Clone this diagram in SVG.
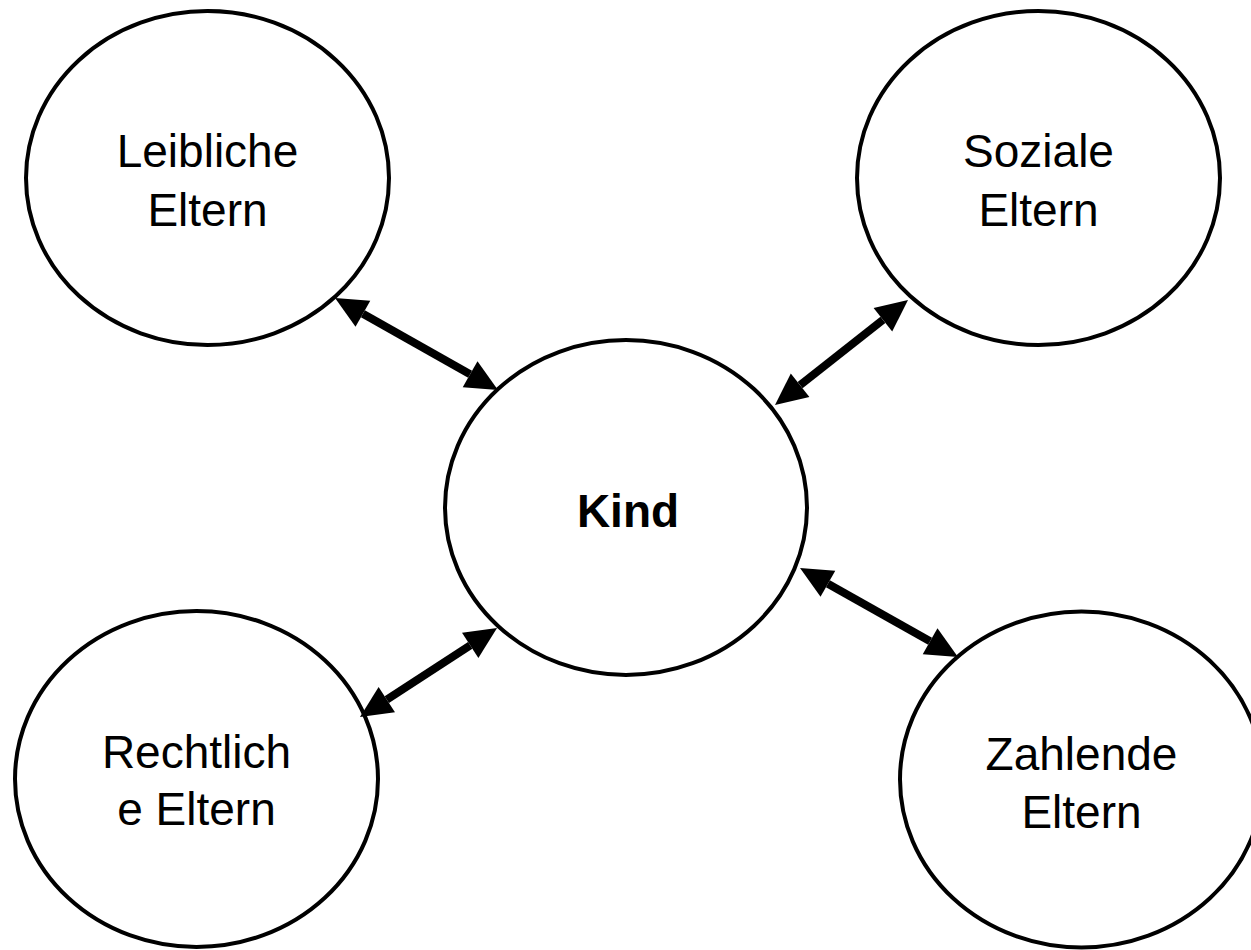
<svg xmlns="http://www.w3.org/2000/svg" width="1251" height="950" viewBox="0 0 1251 950">
<style>
.node{fill:#fff;stroke:#000;stroke-width:4}
.lbl{font-family:"Liberation Sans",Arial,sans-serif;font-size:46px;fill:#000;text-anchor:middle}
.bold{font-weight:bold}
.conn{stroke:#000;stroke-width:8;fill:none;marker-start:url(#head);marker-end:url(#head)}
</style>
<defs>
<marker id="head" markerUnits="userSpaceOnUse" markerWidth="32" markerHeight="30" refX="0" refY="15" orient="auto-start-reverse" overflow="visible">
<path d="M0,0 L32,15 L0,30 z" fill="#000"/>
</marker>
</defs>
<rect width="1251" height="950" fill="#fff"/>
<g id="n-leibliche">
<ellipse class="node" cx="207.5" cy="178" rx="181.5" ry="167"/>
<text class="lbl" x="207.5" y="167">Leibliche</text>
<text class="lbl" x="207.5" y="226">Eltern</text>
</g>
<g id="n-soziale">
<ellipse class="node" cx="1038.5" cy="178" rx="181.5" ry="167"/>
<text class="lbl" x="1038.5" y="167">Soziale</text>
<text class="lbl" x="1038.5" y="226">Eltern</text>
</g>
<g id="n-kind">
<ellipse class="node" cx="626" cy="507.5" rx="181" ry="167.5"/>
<text class="lbl bold" x="628" y="527">Kind</text>
</g>
<g id="n-rechtliche">
<ellipse class="node" cx="196.5" cy="779" rx="181.5" ry="168"/>
<text class="lbl" x="196.5" y="768">Rechtlich</text>
<text class="lbl" x="196.5" y="825">e Eltern</text>
</g>
<g id="n-zahlende">
<ellipse class="node" cx="1081.5" cy="779.5" rx="181.5" ry="168"/>
<text class="lbl" x="1081.5" y="770">Zahlende</text>
<text class="lbl" x="1081.5" y="828">Eltern</text>
</g>
<g id="connectors">
<line class="conn" x1="362.9" y1="313.7" x2="470.1" y2="374.3"/>
<line class="conn" x1="882.9" y1="319.8" x2="800.1" y2="385.2"/>
<line class="conn" x1="470.2" y1="645.4" x2="386.8" y2="699.6"/>
<line class="conn" x1="827.9" y1="583.7" x2="930.1" y2="641.3"/>
</g>
</svg>
